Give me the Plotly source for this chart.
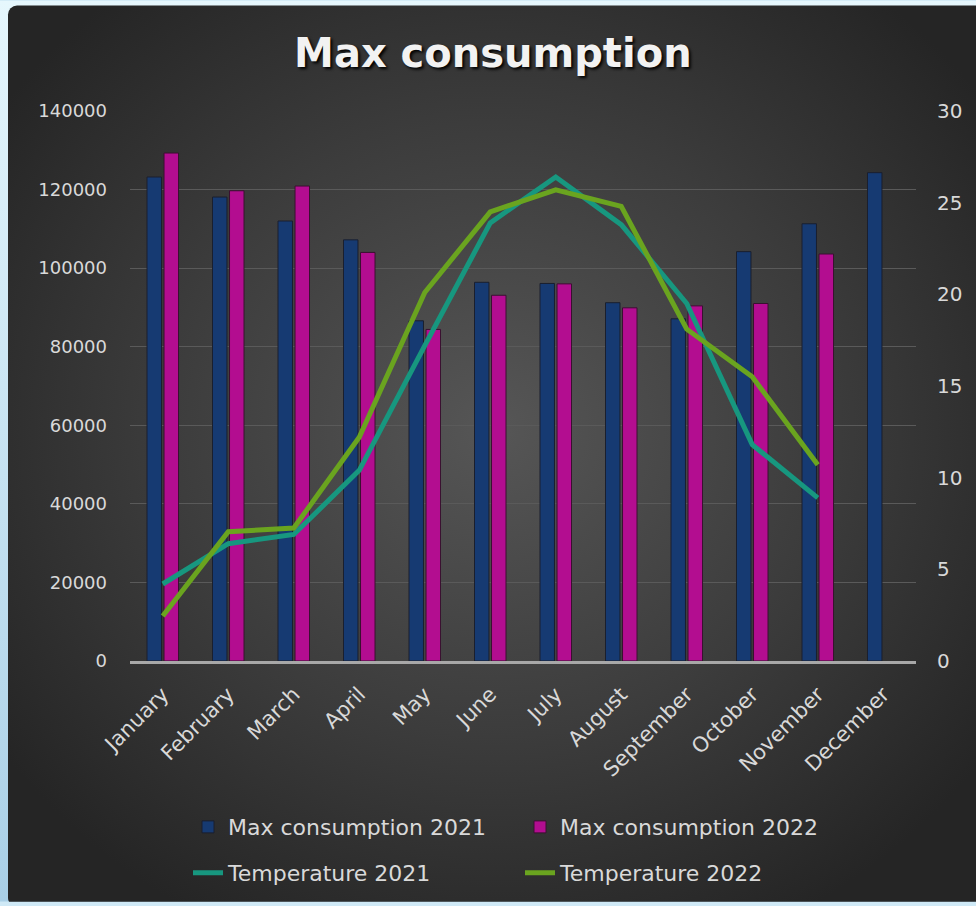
import urllib.parse
import plotly.graph_objects as go

months = ["January", "February", "March", "April", "May", "June", "July",
          "August", "September", "October", "November", "December"]
cons_2021 = [123200, 118100, 112000, 107200, 86600, 96400, 96100, 91200, 87100, 104200, 111300, 124300]
cons_2022 = [129300, 119700, 120900, 104000, 84400, 93100, 96000, 89900, 90400, 91000, 103600, None]
temp_2021 = [4.2, 6.4, 6.9, 10.4, 17.2, 23.9, 26.4, 23.8, 19.5, 11.8, 8.9, None]
temp_2022 = [2.45, 7.05, 7.25, 12.2, 20.1, 24.5, 25.7, 24.8, 18.1, 15.5, 10.7, None]

W, H = 976, 906
L, R, T, B = 130, 60, 111, 242
pw, ph = W - L - R, H - T - B

svg = f'''<svg xmlns="http://www.w3.org/2000/svg" width="{W}" height="{H}" viewBox="0 0 {W} {H}" preserveAspectRatio="none">
<defs>
<linearGradient id="b" x1="0" y1="0" x2="0" y2="1"><stop offset="0" stop-color="#e6f7fd"/><stop offset="1" stop-color="#a9cfe6"/></linearGradient>
<radialGradient id="r" cx="0.5" cy="0.47" r="0.62"><stop offset="0" stop-color="#565656"/><stop offset="0.55" stop-color="#3c3c3c"/><stop offset="1" stop-color="#252525"/></radialGradient>
</defs>
<rect width="{W}" height="{H}" fill="url(#b)"/>
<rect x="8" y="5" width="{W}" height="{H}" rx="9" fill="url(#r)"/>
</svg>'''
bg_src = "data:image/svg+xml;charset=utf-8," + urllib.parse.quote(svg)

FONT = "DejaVu Sans"
TXT = "#d9d9d9"

fig = go.Figure()
fig.add_trace(go.Bar(x=months, y=cons_2021, name="Max consumption 2021",
                     marker=dict(color="#163a72", line=dict(color="#1a1f2e", width=1)),
                     legend="legend"))
fig.add_trace(go.Bar(x=months, y=cons_2022, name="Max consumption 2022",
                     marker=dict(color="#b30d90", line=dict(color="#3a1030", width=1)),
                     legend="legend"))
fig.add_trace(go.Scatter(x=months, y=temp_2021, name="Temperature 2021", mode="lines",
                         line=dict(color="#17977f", width=5), yaxis="y2", legend="legend2"))
fig.add_trace(go.Scatter(x=months, y=temp_2022, name="Temperature 2022", mode="lines",
                         line=dict(color="#6aa41f", width=5), yaxis="y2", legend="legend2"))

fig.update_layout(
    width=W, height=H,
    margin=dict(l=L, r=R, t=T, b=B),
    paper_bgcolor="#cfe9f6",
    plot_bgcolor="rgba(0,0,0,0)",
    images=[dict(source=bg_src, xref="paper", yref="paper",
                 x=-L / pw, y=(H - B) / ph, sizex=W / pw, sizey=H / ph,
                 xanchor="left", yanchor="top", sizing="stretch", layer="below")],
    title=dict(text="Max consumption", x=0.505, xanchor="center", y=1 - 53 / H, yanchor="middle",
               yref="container",
               font=dict(family=FONT, size=40, weight="bold", color="#f2f2f2",
                         shadow="2px 2px 3px #000")),
    font=dict(family=FONT, color=TXT),
    barmode="group", bargap=0.48, bargroupgap=0.15,
    xaxis=dict(showline=True, linecolor="#a8a8a8", linewidth=2.5, tickangle=-45,
               tickfont=dict(size=21, color=TXT), showgrid=False, ticks="",
               ticklabelstandoff=10),
    yaxis=dict(range=[0, 140000], dtick=20000, showgrid=True, gridcolor="#5a5a5a", gridwidth=1,
               zeroline=False, tickfont=dict(size=18, color=TXT), ticklabelstandoff=22,
               tickformat="d"),
    yaxis2=dict(range=[0, 30], dtick=5, overlaying="y", side="right", showgrid=False,
                zeroline=False, tickfont=dict(size=20, color=TXT), ticklabelstandoff=20),
    legend=dict(orientation="h", x=(188 - L) / pw, xanchor="left", y=(H - B - 831) / ph,
                yanchor="middle", font=dict(size=22, color=TXT), entrywidth=287,
                bgcolor="rgba(0,0,0,0)", traceorder="normal"),
    legend2=dict(orientation="h", x=(188 - L) / pw, xanchor="left", y=(H - B - 877) / ph,
                 yanchor="middle", font=dict(size=22, color=TXT), entrywidth=287,
                 bgcolor="rgba(0,0,0,0)", traceorder="normal"),
)

fig.write_html("out.html")
